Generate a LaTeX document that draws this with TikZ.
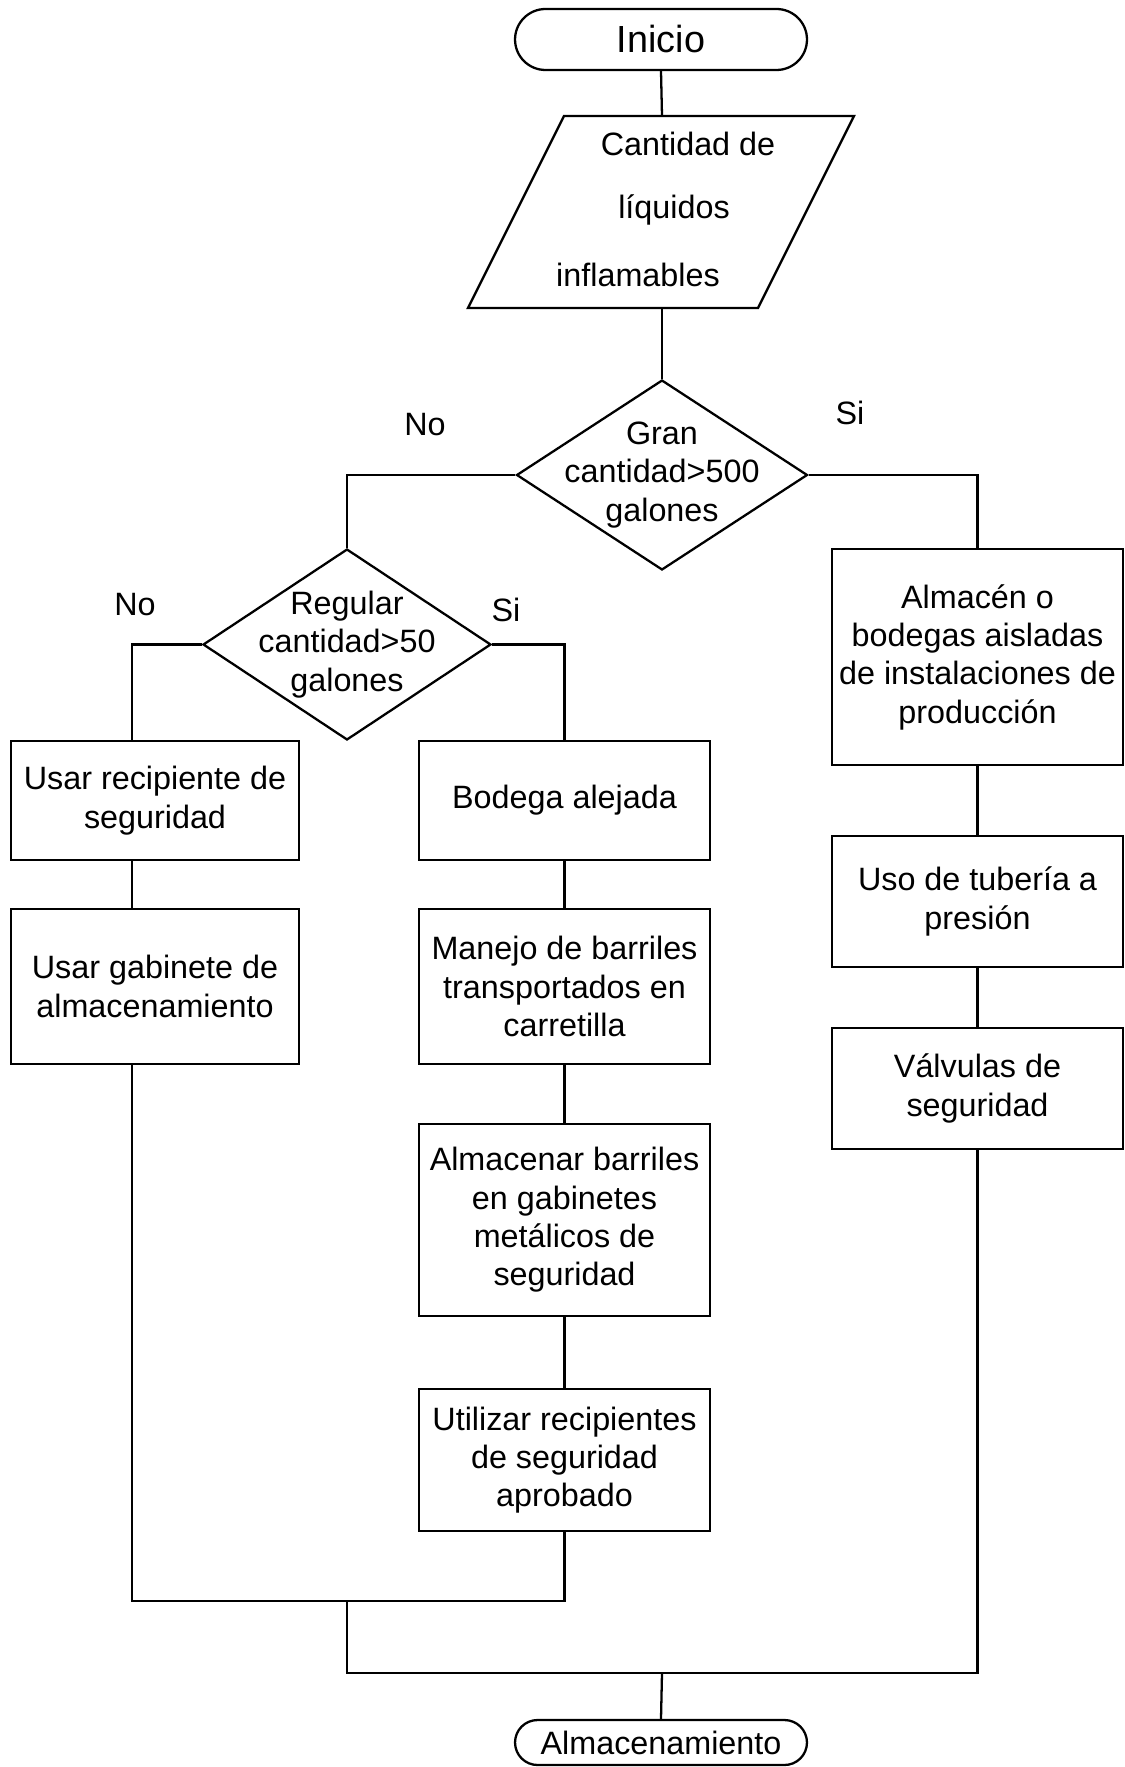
\documentclass[tikz,border=0pt]{standalone}
\usepackage{fontspec}
\setmainfont{Liberation Sans}
\usetikzlibrary{shapes.geometric}

\begin{document}
\begin{tikzpicture}[x=0.02cm, y=-0.02cm, line width=1.3pt,
  every node/.style={font=\fontsize{18.4}{21.8}\selectfont},
  procbox/.style={draw, rectangle, inner sep=0pt, align=center},
  decision/.style={draw, diamond, inner sep=0pt},
  terminal/.style={draw, rectangle, inner sep=0pt, minimum width=5.84cm},
  txt/.style={align=center, inner sep=0pt}]
\useasboundingbox (0,0) rectangle (1125,1767);

% start and end terminals
\node[terminal, minimum height=1.22cm, rounded corners=0.61cm,
      font=\fontsize{21.5}{24}\selectfont] (ini) at (661,39.5) {Inicio};
\node[terminal, minimum height=0.90cm, rounded corners=0.45cm] (fin) at (661,1742.5) {Almacenamiento};

% input parallelogram
\coordinate (parN) at (662,116);
\coordinate (parS) at (662,308);
\draw (564,116) -- (854,116) -- (758,308) -- (468,308) -- cycle;
\node[txt] (par1) at (688,144) {Cantidad de};
\node[txt] (par2) at (674,210) {líquidos};
\node[txt] (par3) at (638,275) {inflamables};

% decisions
\node[decision, minimum width=5.82cm, minimum height=3.80cm] (d1) at (662,475) {};
\node[txt] (d1t) at (d1) {Gran\\cantidad>500\\galones};
\node[decision, minimum width=5.76cm, minimum height=3.82cm] (d2) at (347,644.5) {};
\node[txt] (d2t) at (d2) {Regular\\cantidad>50\\galones};

% branch labels
\node (noA) at (425,425) {No};
\node (siA) at (850,413) {Si};
\node (noB) at (135,605) {No};
\node (siB) at (506,610) {Si};

% left column
\node[procbox, minimum width=5.76cm, minimum height=2.38cm] (A) at (155,800.5) {Usar recipiente de\\seguridad};
\node[procbox, minimum width=5.76cm, minimum height=3.10cm] (B) at (155,986.5) {Usar gabinete de\\almacenamiento};

% middle column
\node[procbox, minimum width=5.82cm, minimum height=2.38cm] (C) at (564.5,800.5) {Bodega alejada};
\node[procbox, minimum width=5.82cm, minimum height=3.10cm] (D) at (564.5,986.5) {Manejo de barriles\\transportados en\\carretilla};
\node[procbox, minimum width=5.82cm, minimum height=3.84cm] (E) at (564.5,1220) {Almacenar barriles\\en gabinetes\\metálicos de\\seguridad};
\node[procbox, minimum width=5.82cm, minimum height=2.84cm] (F) at (564.5,1460) {Utilizar recipientes\\de seguridad\\aprobado};

% right column
\node[procbox, minimum width=5.82cm, minimum height=4.32cm] (G) at (977.5,657) {Almacén o\\bodegas aisladas\\de instalaciones de\\producción};
\node[procbox, minimum width=5.82cm, minimum height=2.62cm] (H) at (977.5,901.5) {Uso de tubería a\\presión};
\node[procbox, minimum width=5.82cm, minimum height=2.42cm] (I) at (977.5,1088.5) {Válvulas de\\seguridad};

% helper coordinates for the connectors
\coordinate (colL) at (132,0);
\coordinate (jL) at (347,1601);
\coordinate (jB) at (662,1673);

% connectors
\draw (ini.south) -- (parN);
\draw (parS) -- (d1.north);
\draw (d1.west) -| (d2.north);
\draw (d1.east) -| (G.north);
\draw (d2.west) -| (A.north -| colL);
\draw (d2.east) -| (C.north);
\draw (A.south -| colL) -- (B.north -| colL);
\draw (C.south) -- (D.north);
\draw (D.south) -- (E.north);
\draw (E.south) -- (F.north);
\draw (G.south) -- (H.north);
\draw (H.south) -- (I.north);
\draw (B.south -| colL) |- (jL) -| (F.south);
\draw (jL) |- (jB) -| (I.south);
\draw (jB) -- (fin.north);
\end{tikzpicture}
\end{document}
